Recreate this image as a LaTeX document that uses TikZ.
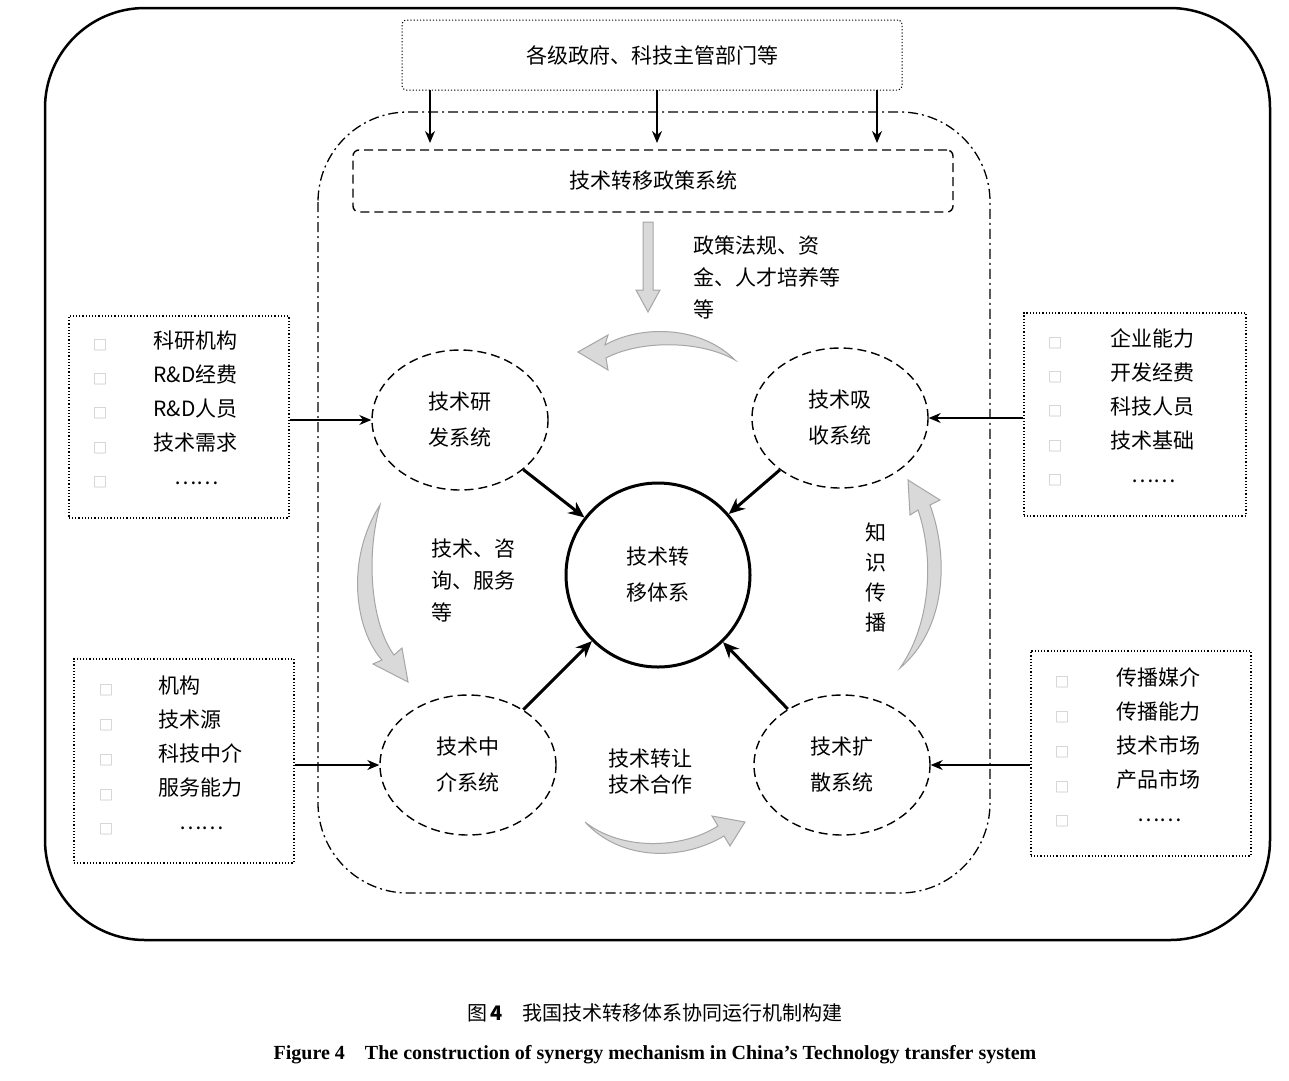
\documentclass[tikz,border=0pt]{standalone}
\usepackage{fontspec}
\setmainfont{Liberation Serif}
\newfontfamily\cjk{Noto Sans CJK SC}
\usetikzlibrary{arrows.meta,shapes.geometric}
\begin{document}
\begin{tikzpicture}[x=1pt,y=-1pt,
  txt/.style={font=\cjk\fontsize{21}{36}\selectfont,align=left},
  dbox/.style={draw,dash pattern=on 1.2pt off 2pt,line width=1.5pt},
  dsh/.style={draw,dash pattern=on 9pt off 5pt,line width=1.4pt},
  ell/.style={dsh,ellipse,minimum width=176,minimum height=140},
  ar/.style={-{Stealth[length=12,width=10]},line width=1.2pt},
  tar/.style={-{Stealth[length=16,width=14]},line width=3pt},
  garr/.style={draw=gray!70,line width=1pt,fill=gray!30},
  bul/.style={text=gray!60,font=\cjk\fontsize{14}{16}\selectfont}]
\useasboundingbox (0,0) rectangle (1289,1080);
\fill[white] (0,0) rectangle (1289,1080);
\draw[line width=2.5pt,rounded corners=100] (45,8) rectangle (1270,940);
\node[dbox,line width=1pt,rounded corners=4,minimum width=500,minimum height=70,txt] (gov) at (652,55) {各级政府、科技主管部门等};
\draw[line width=1.3pt,dash pattern=on 10pt off 4pt on 2pt off 4pt,rounded corners=90] (318,112) rectangle (990,893);
\node[dsh,rounded corners=6,minimum width=600,minimum height=62,txt] (pol) at (653,181) {技术转移政策系统};
\foreach \x in {430,657,877} \draw[ar] (\x,90) -- (\x,143);
% hollow down arrow
\draw[garr] (643,222) -- (653,222) -- (653,290) -- (660,290) -- (648,312) -- (636,290) -- (643,290) -- cycle;
\node[txt,anchor=north west] (t1) at (690,232) {政策法规、资\\[-4pt]金、人才培养等\\[-4pt]等};
% ellipses
\node[ell,txt,align=center] (rd) at (460,420) {技术研\\发系统};
\node[ell,txt,align=center] (ab) at (840,418) {技术吸\\收系统};
\node[ell,txt,align=center] (me) at (468,765) {技术中\\介系统};
\node[ell,txt,align=center] (di) at (842,765) {技术扩\\散系统};
\node[draw,circle,line width=3pt,minimum size=184,txt,align=center] (c) at (658,575) {技术转\\移体系};
\draw[tar] (rd) -- (c); \draw[tar] (ab) -- (c); \draw[tar] (me) -- (c); \draw[tar] (di) -- (c);
% side boxes
\node[dbox,minimum width=220,minimum height=202,anchor=north west] (b1) at (68,315) {};
\node[txt,anchor=north west] at (150,327) {科研机构\\[-2pt]R\&D经费\\[-2pt]R\&D人员\\[-2pt]技术需求\\[-2pt]\quad……};
\node[dbox,minimum width=220,minimum height=204,anchor=north west] (b2) at (73,658) {};
\node[txt,anchor=north west] at (155,672) {机构\\[-2pt]技术源\\[-2pt]科技中介\\[-2pt]服务能力\\[-2pt]\quad……};
\node[dbox,minimum width=222,minimum height=203,anchor=north west] (b3) at (1023,312) {};
\node[txt,anchor=north west] at (1107,325) {企业能力\\[-2pt]开发经费\\[-2pt]科技人员\\[-2pt]技术基础\\[-2pt]\quad……};
\node[dbox,minimum width=220,minimum height=205,anchor=north west] (b4) at (1030,650) {};
\node[txt,anchor=north west] at (1113,664) {传播媒介\\[-2pt]传播能力\\[-2pt]技术市场\\[-2pt]产品市场\\[-2pt]\quad……};
\foreach \y in {345,379,413,448,482} \node[bul] at (100,\y) {□};
\foreach \y in {690,725,760,795,829} \node[bul] at (106,\y) {□};
\foreach \y in {343,377,411,446,480} \node[bul] at (1055,\y) {□};
\foreach \y in {682,717,752,787,821} \node[bul] at (1062,\y) {□};
\draw[ar] (rd.west -| b1.east) -- (rd.west);
\draw[ar] (me.west -| b2.east) -- (me.west);
\draw[ar] (ab.east -| b3.west) -- (ab.east);
\draw[ar] (di.east -| b4.west) -- (di.east);
% texts
\node[txt,anchor=north west] (t2) at (428,535) {技术、咨\\[-4pt]询、服务\\[-4pt]等};
\node[txt,align=center] (t3) at (876,578) {知\\[-6pt]识\\[-6pt]传\\[-6pt]播};
\node[txt,align=left] (t4) at (650,772) {技术转让\\[-10pt]技术合作};
% curved gray arrows
\draw[garr] (735,360) .. controls (700,325) and (640,325) .. (605,345) -- (608,335) -- (578,352) -- (608,370) -- (606,358) .. controls (640,340) and (700,340) .. cycle;
\draw[garr] (380,505) .. controls (345,560) and (355,630) .. (382,660) -- (373,664) -- (408,682) -- (402,648) -- (394,655) .. controls (372,625) and (365,560) .. cycle;
\draw[garr] (900,668) .. controls (945,630) and (950,560) .. (930,505) -- (940,500) -- (908,480) -- (910,515) -- (918,510) .. controls (935,560) and (930,625) .. cycle;
\draw[garr] (585,822) .. controls (620,850) and (680,850) .. (718,826) -- (712,816) -- (745,822) -- (730,846) -- (724,836) .. controls (680,862) and (620,860) .. cycle;
% captions
\node[font=\cjk\fontsize{20}{24}\selectfont] (cap1) at (655,1013) {图\,\textbf{4}\quad 我国技术转移体系协同运行机制构建};
\node[font=\bfseries\fontsize{20}{24}\selectfont] (cap2) at (655,1055) {Figure 4\quad The construction of synergy mechanism in China's Technology transfer system};
\end{tikzpicture}
\end{document}
